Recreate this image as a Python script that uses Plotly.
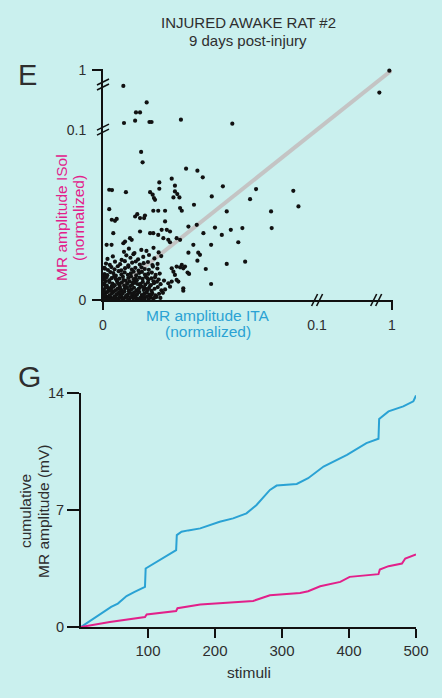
import plotly.graph_objects as go

W, H = 442, 698
BG = "#caf0ee"
BLUE = "#2aa2d4"
MAG = "#e2208a"
TXT = "#2e2e2e"
FONT = "Liberation Sans, Arial, sans-serif"

# ---------- Panel E data (values in thousandths of normalized amplitude) ----------
ita_upper = [9.5, 20.4, 15.4, 17.3, 15.0, 9.8, 21.7, 22.7, 36.4, 60.4, 968, 848]
isol_upper = [760, 510, 360, 360, 235, 200, 215, 215, 250, 190, 990, 660]

ita_mid = [17.8, 18.5, 38.8, 44.1, 46.6, 32.1, 26.3, 33.6, 56.0, 71.5,
           88.9, 68.7, 91.3, 78.5, 65.1, 78.8, 59.7, 63.2, 66.4, 57.8]
isol_mid = [86.9, 80.8, 77.1, 75.9, 72.0, 71.2, 69.0, 67.1, 66.7, 65.1,
            64.1, 59.2, 54.9, 52.0, 42.2, 42.2, 41.2, 33.9, 22.5, 52.0]

ita_scatter = [2.9, 10.7, 22.0, 23.2, 23.8, 24.3, 26.3, 33.6, 34.7, 35.7,
               32.9, 50.8, 2.9, 42.5, 36.0, 36.8, 15.0, 16.0, 17.3, 19.6,
               19.2, 23.5, 25.8, 29.0, 4.1, 5.6, 6.4, 29.0, 4.8, 17.3,
               22.0, 23.5, 27.4, 29.8, 31.3, 39.9, 43.8, 52.3, 12.6, 13.4,
               10.3, 9.5, 25.8, 28.2, 30.5, 31.3, 34.4, 36.0, 46.9, 55.5,
               4.2, 1.7, 4.0,
               42.2, 50.5, 39.9, 44.5, 45.3, 44.1, 57.8, 48.0, 36.8, 36.0,
               37.5, 38.3, 39.5, 40.2, 34.4, 35.2, 50.5, 37.5, 37.5, 30.5,
               31.3, 32.1, 33.6, 32.9, 32.1, 34.4]
isol_scatter = [64.7, 63.3, 63.3, 61.8, 59.8, 58.8, 65.3, 63.7, 62.2, 60.2,
                60.2, 60.8, 53.3, 55.9, 54.0, 52.4, 49.0, 50.4, 48.1, 49.6,
                48.1, 52.4, 52.4, 52.4, 47.1, 46.5, 47.6, 46.1, 39.2, 40.2,
                39.2, 39.2, 41.2, 41.2, 40.2, 43.1, 44.1, 42.5, 36.3, 35.3,
                34.3, 33.3, 38.2, 36.3, 35.3, 33.9, 36.3, 35.3, 39.2, 38.2,
                64.5, 32.4, 32.4,
                32.4, 32.4, 27.8, 27.8, 26.5, 23.1, 21.2, 18.2, 20.6, 19.2,
                18.6, 19.6, 16.1, 15.3, 11.8, 10.8, 9.4, 6.9, 5.5, 9.8,
                7.8, 10.8, 14.7, 16.6, 18.6, 19.6]

ita_cluster = [
    0.5, 1.2, 2.0, 2.8, 3.5, 4.6, 5.3, 6.1, 7.0, 7.8, 8.5, 9.6, 10.4, 11.2, 12.3, 13.0, 14.1, 15.2, 16.0, 17.4, 18.3, 19.5, 20.6, 22.1, 23.4, 25.0, 26.8,
    0.8, 1.9, 3.1, 4.2, 5.0, 6.3, 7.4, 8.2, 9.1, 10.0, 11.5, 12.6, 13.8, 14.6, 15.9, 17.0, 18.1, 19.3, 20.4, 21.8, 23.0, 24.5, 26.2, 28.0,
    0.4, 1.5, 2.6, 3.8, 4.9, 5.7, 6.8, 7.9, 9.0, 10.2, 11.0, 12.1, 13.3, 14.5, 15.6, 16.8, 17.9, 19.0, 20.3, 21.5, 22.7, 24.1, 25.6, 27.3, 29.0,
    0.6, 1.8, 3.0, 4.4, 5.5, 6.6, 7.6, 8.8, 9.9, 11.3, 12.4, 13.6, 14.9, 16.1, 17.3, 18.6, 19.8, 21.0, 22.4, 23.8, 25.2, 26.9,
    0.5, 1.6, 2.9, 4.0, 5.2, 6.4, 7.7, 9.3, 10.6, 11.8, 13.1, 14.4, 15.8, 17.1, 18.5, 19.9, 21.2, 22.6, 24.3, 26.0, 28.5,
    0.7, 2.0, 3.4, 4.8, 6.0, 7.3, 8.6, 10.1, 11.6, 13.0, 14.3, 15.5, 16.9, 18.2, 19.6, 21.1, 22.8, 24.6, 26.5,
    0.9, 2.3, 3.9, 5.4, 6.9, 8.5, 10.3, 11.9, 13.5, 15.1, 16.6, 18.0, 19.5, 21.4, 23.3, 25.4,
    1.4, 3.2, 5.6, 8.0, 10.2, 11.8, 13.6, 15.3, 17.2, 19.0, 21.0, 23.1, 25.5,
    2.1, 4.6, 8.7, 10.9, 12.8, 14.2, 16.4, 18.8, 21.5, 24.0, 27.2,
    9.8, 12.1, 14.7, 17.9, 20.3, 23.6, 26.0,
    1.0, 2.4, 3.7, 5.5, 6.7, 8.0, 9.3, 10.8, 12.0, 13.5, 14.8, 16.5, 17.8, 19.0, 20.9, 22.5, 24.2,
    1.3, 2.5, 4.1, 5.9, 7.1, 8.3, 9.6, 11.1, 12.7, 14.0, 15.3, 16.4, 17.6, 19.2, 20.7, 22.0, 23.6,
    0.2, 0.3, 0.5, 0.9, 1.1, 4.3, 6.5, 9.0, 11.7, 15.6, 18.9, 21.3, 0.3, 0.4, 0.6]
isol_cluster = [
    1.2, 0.6, 1.8, 0.9, 1.5, 0.7, 2.1, 1.1, 0.5, 1.6, 2.3, 0.8, 1.4, 2.0, 0.6, 1.7, 1.0, 2.4, 0.7, 1.3, 1.9, 0.9, 2.2, 1.5, 0.8, 1.8, 1.2,
    3.4, 4.6, 2.8, 3.9, 4.8, 3.1, 4.3, 2.6, 3.7, 4.9, 3.0, 4.1, 2.7, 4.5, 3.3, 4.7, 2.9, 3.8, 4.4, 3.2, 4.0, 2.8, 3.6, 4.2,
    6.1, 7.4, 5.3, 6.8, 7.9, 5.6, 6.5, 7.7, 5.2, 6.9, 7.5, 5.8, 6.3, 7.2, 5.5, 6.7, 7.8, 5.9, 6.4, 7.1, 5.4, 6.6, 7.6, 5.7, 6.2,
    9.2, 8.4, 10.5, 9.6, 8.7, 10.8, 9.0, 10.2, 8.5, 9.7, 10.9, 8.9, 10.1, 9.4, 8.6, 10.6, 9.1, 10.3, 8.8, 9.9, 10.7, 9.3,
    12.1, 13.4, 11.5, 12.8, 13.9, 11.8, 12.5, 13.6, 11.3, 12.9, 13.8, 12.2, 11.6, 13.1, 12.4, 13.7, 11.9, 12.7, 13.3, 12.0, 11.4,
    15.2, 14.6, 16.4, 15.8, 14.3, 16.9, 15.0, 16.2, 14.8, 15.6, 16.7, 14.4, 15.9, 16.5, 14.9, 15.3, 16.1, 14.7, 15.5,
    18.4, 17.6, 19.3, 18.0, 19.8, 17.4, 18.7, 19.5, 17.9, 18.9, 17.3, 19.2, 18.2, 17.7, 19.6, 18.5,
    21.4, 20.6, 22.5, 21.0, 22.8, 20.3, 21.9, 22.6, 20.8, 21.6, 22.3, 20.5, 21.2,
    24.1, 25.6, 23.5, 26.2, 24.8, 26.9, 23.9, 25.3, 26.4, 24.4, 25.8,
    28.3, 30.1, 27.6, 29.4, 28.8, 30.6, 27.9,
    2.4, 0.4, 5.6, 1.3, 3.5, 4.6, 0.9, 2.6, 5.1, 3.9, 1.9, 4.8, 0.5, 2.7, 5.8, 3.0, 1.4,
    11.1, 7.0, 8.1, 12.4, 9.8, 6.3, 11.7, 7.3, 8.2, 10.4, 12.6, 6.1, 9.5, 7.6, 12.8, 8.3, 11.0,
    0.2, 3.1, 5.0, 0.3, 7.6, 0.2, 0.3, 0.4, 0.2, 0.3, 0.5, 0.3, 9.7, 14.0, 18.9]

e_tick_vals = [0, 0.1, 1]
e_tick_text = ["0", "0.1", "1"]
e_xbreaks = [0.1, 0.81]
e_ybreaks = [0.1, 0.78]

# ---------- Panel G data ----------
stim_ita = [0, 20, 45, 55, 68, 80, 95.5, 96.5, 118, 142, 143, 150, 160, 178, 207,
            227, 247, 262, 282, 292, 322, 339, 362, 397, 426, 444, 445, 459, 481, 496, 500]
cum_ita = [0, 0.55, 1.2, 1.4, 1.85, 2.1, 2.4, 3.5, 4.0, 4.6, 5.5, 5.7, 5.78, 5.9, 6.3,
           6.5, 6.8, 7.3, 8.2, 8.46, 8.56, 8.9, 9.6, 10.3, 11.0, 11.26, 12.44, 12.9, 13.2, 13.5, 13.85]
stim_isol = [0, 43, 95.5, 98, 142, 144, 178, 257, 282, 327, 339, 357, 387, 401,
             444, 446, 459, 479, 484, 500]
cum_isol = [0, 0.3, 0.6, 0.75, 0.96, 1.12, 1.34, 1.56, 1.9, 2.04, 2.14, 2.44, 2.7, 3.0,
            3.16, 3.44, 3.64, 3.8, 4.1, 4.34]
g_xticks = [100, 200, 300, 400, 500]
g_yticks = [0, 7, 14]

# ---------- broken-axis transform ----------
UPPER = 0.35


def brk(v):
    return v * 10 if v <= 0.1 else 1 + (v - 0.1) / 0.9 * UPPER


xs = [v / 1000 for v in ita_upper + ita_mid + ita_scatter + ita_cluster]
ys = [v / 1000 for v in isol_upper + isol_mid + isol_scatter + isol_cluster]
pairs = list(zip(xs, ys))
tx = [brk(a) for a, b in pairs]
ty = [brk(b) for a, b in pairs]
TOP = brk(1)

fig = go.Figure()
fig.add_trace(go.Scatter(x=[brk(0), brk(1)], y=[brk(0), brk(1)], mode="lines",
                         line=dict(color="#c4c4c4", width=4), xaxis="x", yaxis="y",
                         showlegend=False, hoverinfo="skip"))
fig.add_trace(go.Scatter(x=tx, y=ty, mode="markers", marker=dict(size=4.2, color="#111111"),
                         xaxis="x", yaxis="y", showlegend=False, cliponaxis=False))
fig.add_trace(go.Scatter(x=stim_ita, y=cum_ita, mode="lines", line=dict(color=BLUE, width=2),
                         xaxis="x2", yaxis="y2", showlegend=False, cliponaxis=False))
fig.add_trace(go.Scatter(x=stim_isol, y=cum_isol, mode="lines", line=dict(color=MAG, width=2),
                         xaxis="x2", yaxis="y2", showlegend=False, cliponaxis=False))


def px(x):
    return x / W


def py(y):
    return 1 - y / H


E_X = [px(103), px(392)]
E_Y = [py(300), py(70)]

axis_common = dict(showgrid=False, zeroline=False, showline=True, linecolor="#111111",
                   linewidth=2, automargin=False, fixedrange=True)

fig.update_layout(
    width=W, height=H, paper_bgcolor=BG, plot_bgcolor=BG,
    margin=dict(l=0, r=0, t=0, b=0),
    font=dict(family=FONT, color=TXT),
    xaxis=dict(domain=E_X, range=[0, TOP], anchor="y",
               tickvals=[brk(v) for v in e_tick_vals], ticktext=e_tick_text,
               ticks="", ticklabelstandoff=11, tickfont=dict(size=14, color=TXT), **axis_common),
    yaxis=dict(domain=E_Y, range=[0, TOP], anchor="x",
               tickvals=[brk(v) for v in e_tick_vals], ticktext=e_tick_text,
               ticks="", ticklabelstandoff=12, tickfont=dict(size=14, color=TXT), **axis_common),
    xaxis2=dict(domain=[px(81), px(416)], range=[0, 500], anchor="y2",
                tickvals=g_xticks, ticks="outside", ticklen=9, tickwidth=2, tickcolor="#111111",
                tickfont=dict(size=15, color=TXT), **axis_common),
    yaxis2=dict(domain=[py(627), py(393)], range=[0, 14], anchor="x2",
                tickvals=g_yticks, ticks="outside", ticklen=12, tickwidth=2, tickcolor="#111111",
                tickfont=dict(size=14.5, color=TXT), **axis_common),
)


# paper position of a broken-axis value (for axis decorations only)
def ex(v):
    return E_X[0] + brk(v) / TOP * (E_X[1] - E_X[0])


def ey(v):
    return E_Y[0] + brk(v) / TOP * (E_Y[1] - E_Y[0])


shapes = []
ln = dict(color="#111111", width=2)
thin = dict(color="#111111", width=1.6)
# tick marks at 0 and 1 on panel E axes (outside, unclipped)
for v in (0, 1):
    shapes.append(dict(type="line", xref="paper", yref="paper", xsizemode="pixel", xanchor=E_X[0],
                       x0=-11, x1=0, y0=ey(v), y1=ey(v), line=ln))
    shapes.append(dict(type="line", xref="paper", yref="paper", ysizemode="pixel", yanchor=E_Y[0],
                       x0=ex(v), x1=ex(v), y0=-10, y1=0, line=ln))
# break marks
for v in e_ybreaks:
    for off in (-2.5, 2.5):
        shapes.append(dict(type="line", xref="paper", yref="paper", xsizemode="pixel", xanchor=E_X[0],
                           ysizemode="pixel", yanchor=ey(v), x0=-6, x1=6,
                           y0=off - 3, y1=off + 3, line=thin))
for v in e_xbreaks:
    for off in (-2.5, 2.5):
        shapes.append(dict(type="line", xref="paper", yref="paper", xsizemode="pixel", xanchor=ex(v),
                           ysizemode="pixel", yanchor=E_Y[0], x0=off - 3, x1=off + 3,
                           y0=-6, y1=6, line=thin))
fig.update_layout(shapes=shapes)


def ann(text, x, y, size, color=TXT, angle=0):
    return dict(text=text, x=px(x), y=py(y), xref="paper", yref="paper", showarrow=False,
                xanchor="center", yanchor="middle", textangle=angle,
                font=dict(size=size, color=color, family=FONT))


fig.update_layout(annotations=[
    ann("INJURED AWAKE RAT #2", 248, 22, 15),
    ann("9 days post-injury", 248, 41, 15),
    ann("E", 27, 75, 29),
    ann("G", 29, 376, 30),
    ann("MR amplitude ITA", 208, 315, 15.5, BLUE),
    ann("(normalized)", 208, 331, 15.5, BLUE),
    ann("MR amplitude ISol", 61, 218, 15.5, MAG, -90),
    ann("(normalized)", 78, 218, 15.5, MAG, -90),
    ann("cumulative", 25, 511, 15.5, TXT, -90),
    ann("MR amplitude (mV)", 43, 511, 15.5, TXT, -90),
    ann("stimuli", 249, 672, 15.5),
])

fig.write_html("out.html")
